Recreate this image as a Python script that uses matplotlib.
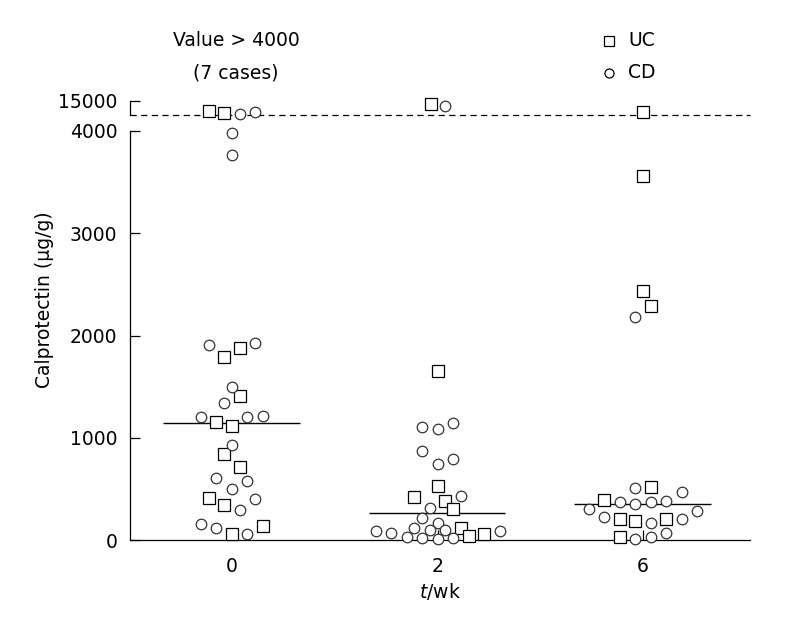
import matplotlib
matplotlib.use('Agg')
import matplotlib.pyplot as plt
from matplotlib.lines import Line2D

plt.rcParams['font.family'] = ['DejaVu Sans']
plt.rcParams['font.size'] = 13.5

# groups on the x axis
weeks = ['0', '2', '6']

# beeswarm column (in marker widths) and value for every point, per week
# values above 4000 are drawn in the broken top segment
uc_vals = [
    [7400, 5300, 1793, 1875, 1408, 1157, 1118, 838, 717, 414, 342, 59, 140],
    [12400, 1653, 531, 417, 381, 300, 120, 39, 56],
    [6600, 3560, 2435, 2289, 521, 391, 202, 189, 202, 26],
]
uc_cols = [
    [-1.5, -0.5, -0.5, 0.5, 0.5, -1, 0, -0.5, 0.5, -1.5, -0.5, 0, 2],
    [-0.4, 0, 0, -1.5, 0.5, 1, 1.5, 2, 3],
    [0, 0, 0, 0.5, 0.5, -2.5, -1.5, -0.5, 1.5, -1.5],
]
cd_vals = [
    [4800, 6600, 3981, 3763, 1907, 1924, 1500, 1337, 1200, 1200, 1213, 929,
     603, 577, 499, 401, 293, 153, 114, 59],
    [11100, 1108, 1082, 1147, 873, 743, 792, 433, 316, 218, 163, 120, 98, 98,
     88, 71, 26, 17, 10, 17, 91],
    [2184, 512, 466, 375, 349, 375, 384, 303, 284, 228, 163, 205, 10, 26, 71],
]
cd_cols = [
    [0.5, 1.5, 0, 0, -1.5, 1.5, 0, -0.5, -2, 1, 2, 0, -1, 1, 0, 1.5, 0.5, -2,
     -1, 1],
    [0.5, -1, 0, 1, -1, 0, 1, 1.5, -0.5, -1, 0, -1.5, -0.5, 0.5, -4, -3, -2,
     -1, 0, 1, 4],
    [-0.5, -0.5, 2.5, -1.5, -0.5, 0.5, 1.5, -3.5, 3.5, -2.5, 0.5, 2.5, -0.5,
     0.5, 1.5],
]
medians = [1141, 267, 349]

break_at = 4000
top_value = 15000
col_step = 0.0754

W, H = 787, 617
fig = plt.figure(figsize=(W / 100, H / 100), dpi=100)

# main axes 0..4000
ax = fig.add_axes([130 / W, 1 - 540 / H, 620 / W, 409 / H])
# narrow top segment for values > 4000
ax_top = fig.add_axes([130 / W, 1 - 115 / H, 620 / W, 14 / H], sharex=ax)

for a in (ax, ax_top):
    for s in ['top', 'right']:
        a.spines[s].set_visible(False)
    a.spines['left'].set_linewidth(0.9)
    a.tick_params(direction='in', length=7, width=0.9, pad=9,
                  labelsize=13.5)

ax.set_xlim(-0.496, 2.52)
ax.set_ylim(0, break_at)
ax.set_yticks([0, 1000, 2000, 3000, 4000])
ax.set_xticks(range(len(weeks)))
ax.set_xticklabels(weeks)
ax.tick_params(axis='x', pad=12)
ax.spines['bottom'].set_linewidth(0.9)

ax_top.set_ylim(break_at, top_value)
ax_top.set_yticks([top_value])
ax_top.spines['bottom'].set_visible(False)
ax_top.tick_params(axis='x', bottom=False, labelbottom=False)
ax_top.patch.set_visible(False)
ax_top.axhline(break_at, color='black', lw=0.9, ls=(0, (5, 3.5)),
               clip_on=False)

sq_style = dict(marker='s', ms=8.2, mfc='white', mec='black', mew=0.9,
                ls='none', clip_on=False, zorder=3)
ci_style = dict(marker='o', ms=7.6, mfc='white', mec='#333333', mew=0.9,
                ls='none', clip_on=False, zorder=3)

for i in range(len(weeks)):
    for vals, cols, style in ((uc_vals[i], uc_cols[i], sq_style),
                              (cd_vals[i], cd_cols[i], ci_style)):
        for v, c in zip(vals, cols):
            x = i + c * col_step
            target = ax_top if v > break_at else ax
            target.plot([x], [v], **style)
    ax.hlines(medians[i], i - 0.335, i + 0.33, color='black', lw=1.0,
              zorder=2)

fig.text(45 / W, 1 - 300 / H, 'Calprotectin (\u03bcg/g)', rotation=90,
         ha='center', va='center')
fig.text(440 / W, 1 - 592 / H, '$t$/wk', ha='center', va='center')

fig.text(236 / W, 1 - 41 / H, 'Value > 4000', ha='center', va='center')
fig.text(236 / W, 1 - 73 / H, '(7 cases)', ha='center', va='center')

legend_labels = ['UC', 'CD']
legend_markers = ['s', 'o']
for k, (lab, m) in enumerate(zip(legend_labels, legend_markers)):
    y = 1 - (41 + 32 * k) / H
    fig.add_artist(Line2D([609 / W], [y], marker=m, ms=6.5, mfc='white',
                          mec='black', mew=0.9, ls='none'))
    fig.text(628 / W, y, lab, ha='left', va='center')

fig.savefig('out.png', dpi=100)
